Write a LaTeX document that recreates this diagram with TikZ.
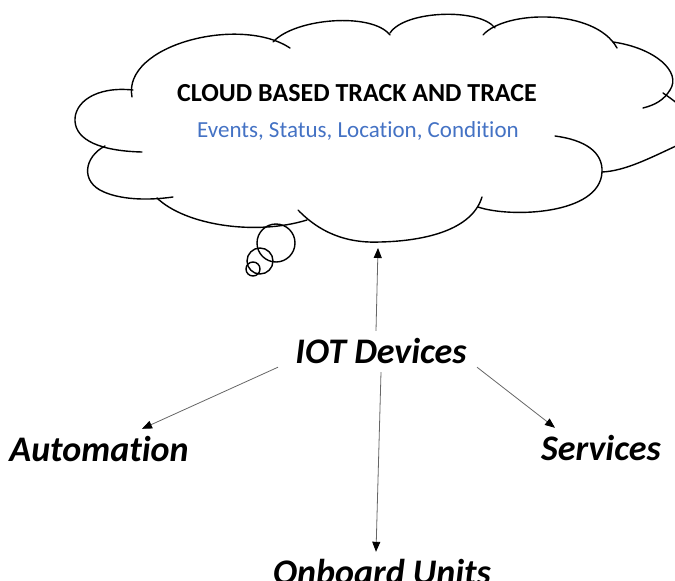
\documentclass[tikz,border=0pt]{standalone}
\usepackage{fontspec}
\setmainfont{Carlito}[Ligatures=NoCommon]
\usetikzlibrary{arrows.meta}
\definecolor{eventblue}{RGB}{68,114,196}
\tikzset{
  lbl/.style={font=\fontsize{36}{42}\selectfont\bfseries\itshape, inner xsep=0pt, inner ysep=9pt,
    text height=23pt, text depth=0pt, anchor=base},
  arr/.style={draw=black!60, line width=0.8pt, -{Triangle[length=10pt,width=8pt,color=black]}},
  cloudline/.style={line width=1.4pt, line cap=round},
}
\begin{document}
\begin{tikzpicture}[x=1pt,y=-1pt]
    \useasboundingbox (0,0) rectangle (675,581);
    % Cloud %
    \draw[cloudline] (132,97) .. controls (122,45) and (240,15) .. (290,48);
    \draw[cloudline] (273,42) .. controls (295,18) and (372,12) .. (390,35);
    \draw[cloudline] (390,33) .. controls (405,10) and (480,8) .. (495,28);
    \draw[cloudline] (483,35) .. controls (505,10) and (595,8) .. (617,48);
    \draw[cloudline] (613,42) .. controls (655,48) and (682,72) .. (670,90) .. controls (664,100) and (655,105) .. (643,108);
    \draw[cloudline] (663,93) .. controls (700,118) and (712,140) .. (676,146) .. controls (650,158) and (625,171) .. (602,172);
    \draw[cloudline] (478,207) .. controls (510,218) and (600,215) .. (602,172) .. controls (603,152) and (585,140) .. (555,136);
    \draw[cloudline] (298,210) .. controls (325,238) and (355,243) .. (380,242) .. controls (425,241) and (472,230) .. (482,197);
    \draw[cloudline] (157,198) .. controls (185,225) and (255,236) .. (307,220);
    \draw[cloudline] (105,146) .. controls (84,157) and (80,182) .. (104,192) .. controls (120,199) and (145,201) .. (173,197);
    \draw[cloudline] (133,90) .. controls (95,86) and (74,103) .. (75,121) .. controls (76,140) and (100,151) .. (142,152);
    % Thought bubbles %
    \draw[cloudline] (276,243) circle[radius=19];
    \draw[cloudline] (260,261) circle[radius=13];
    \draw[cloudline] (253,269) circle[radius=7];

    \node[font=\fontsize{26}{30}\selectfont\bfseries, anchor=base] (title) at (357,101) {CLOUD BASED TRACK AND TRACE};
    \node[font=\fontsize{23}{27}\selectfont, text=eventblue, anchor=base] (events) at (358,137) {Events, Status, Location, Condition};
    \coordinate (cloudbase) at (378,248);

    % Devices %
    \node[lbl] (iot) at (381,363) {IOT Devices};
    \node[lbl] (auto) at (99,461) {Automation};
    \node[lbl] (serv) at (601,460) {Services};
    \node[lbl] (onb) at (382,584) {Onboard Units};

    \draw[arr] ([xshift=-5pt]iot.north) -- (cloudbase);
    \draw[arr] ([xshift=-103pt,yshift=5pt]iot.south) -- ([xshift=43pt]auto.north);
    \draw[arr] ([xshift=96pt,yshift=5pt]iot.south) -- ([xshift=-46pt]serv.north);
    \draw[arr] (iot.south) -- ([xshift=-6pt]onb.north);
\end{tikzpicture}
\end{document}
